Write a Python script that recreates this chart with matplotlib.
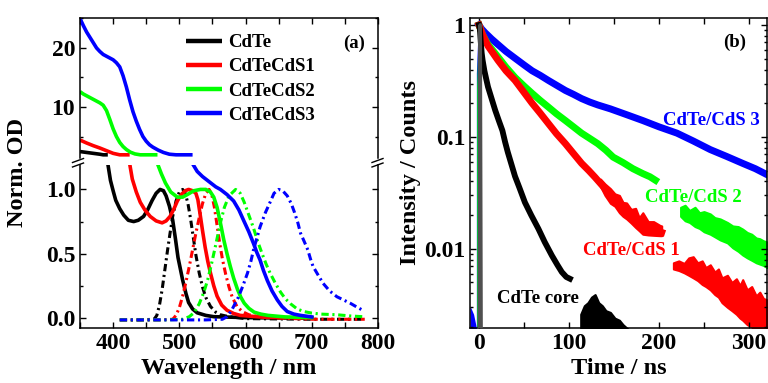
import numpy as np
import matplotlib.pyplot as plt
from matplotlib.lines import Line2D
from matplotlib.ticker import MultipleLocator, LogLocator, NullFormatter, FixedLocator, FixedFormatter

plt.rcParams['font.family'] = ['Liberation Serif', 'DejaVu Serif']
plt.rcParams['font.weight'] = 'bold'
plt.rcParams['axes.labelweight'] = 'bold'
plt.rcParams['axes.linewidth'] = 1.1

# (a) absorption spectra (solid) and PL spectra (dash-dot)
cdte_abs_wl = [350, 360, 370, 380, 385, 392, 396, 400, 404, 410, 416, 423, 431, 438, 446, 452, 459, 465, 471,
               476, 480, 485, 490, 494, 498, 502, 505, 510, 514, 520, 527, 540, 552, 600, 650, 700]
cdte_abs = [2.45, 2.3, 2.15, 2.0, 1.9, 1.2, 1.07, 0.99, 0.915, 0.85, 0.80, 0.76, 0.75, 0.76, 0.79, 0.84, 0.915, 0.97, 1.0,
            0.99, 0.95, 0.87, 0.76, 0.62, 0.47, 0.37, 0.295, 0.19, 0.12, 0.07, 0.04, 0.02, 0.01, 0.003, 0.0, 0.0]

cds1_abs_wl = [350, 360, 370, 380, 390, 400, 410, 420, 425, 429, 435, 441, 448, 456, 465, 474, 480, 486, 492, 497, 503,
               509, 514, 520, 525, 528, 531, 535, 539, 543, 547, 552, 557, 564, 572, 582, 592, 630, 700]
cds1_abs = [4.4, 3.9, 3.45, 3.05, 2.6, 2.15, 1.75, 1.35, 1.2, 1.08, 0.98, 0.9, 0.84, 0.79, 0.755, 0.74, 0.755, 0.79, 0.85,
            0.91, 0.96, 0.99, 1.0, 0.99, 0.97, 0.92, 0.82, 0.68, 0.55, 0.44, 0.35, 0.25, 0.17, 0.1, 0.06, 0.035, 0.02, 0.005, 0.0]

cds2_abs_wl = [350, 355, 360, 365, 370, 375, 380, 385, 390, 395, 400, 405, 410, 415, 420, 426, 433, 441, 455, 467, 473,
               479, 487, 497, 505, 512, 522, 532, 540, 547, 552, 557, 562, 567, 572, 577, 582, 588, 593, 598, 605, 613,
               623, 634, 660, 700]
cds2_abs = [12.6, 12.2, 11.9, 11.6, 11.3, 11.0, 10.7, 10.3, 9.4, 7.9, 6.3, 5.0, 4.0, 3.3, 2.8, 2.35, 2.05, 1.8, 1.45, 1.2, 1.12,
            1.05, 0.98, 0.94, 0.94, 0.96, 0.99, 1.0, 1.0, 0.98, 0.94, 0.86, 0.74, 0.61, 0.5, 0.4, 0.31, 0.22, 0.16, 0.115, 0.075,
            0.045, 0.03, 0.02, 0.008, 0.003]

cds3_abs_wl = [350, 355, 360, 365, 370, 375, 380, 385, 390, 395, 400, 405, 410, 415, 420, 425, 430, 435, 440, 445, 450,
               455, 460, 468, 476, 485, 495, 505, 515, 520, 527, 535, 545, 555, 562, 572, 582, 590, 597, 605, 612, 617,
               622, 627, 633, 640, 648, 655, 663, 673, 683, 700]
cds3_abs = [25.0, 23.8, 22.7, 21.8, 20.9, 20.0, 19.4, 18.9, 18.6, 18.3, 18.0, 17.5, 16.8, 15.3, 13.4, 11.2, 9.2, 7.6, 6.2,
            5.0, 4.2, 3.6, 3.2, 2.7, 2.3, 2.0, 1.7, 1.5, 1.3, 1.2, 1.14, 1.10, 1.06, 1.02, 1.0, 0.96, 0.91, 0.84, 0.76,
            0.67, 0.58, 0.51, 0.45, 0.37, 0.29, 0.21, 0.14, 0.09, 0.05, 0.03, 0.02, 0.008]

cdte_pl_wl = [410, 440, 462, 466, 470, 474, 478, 482, 486, 490, 495, 500, 505, 509, 513, 517, 521, 525, 530, 535, 540,
              547, 555, 562, 575, 600, 700, 780]
cdte_pl = [-0.015, -0.015, -0.01, 0.02, 0.1, 0.22, 0.37, 0.52, 0.66, 0.79, 0.91, 0.98, 1.0, 0.97, 0.89, 0.77, 0.63, 0.49,
           0.35, 0.24, 0.16, 0.09, 0.045, 0.025, 0.01, -0.005, -0.01, -0.01]

cds1_pl_wl = [410, 470, 490, 495, 500, 505, 510, 515, 520, 525, 530, 535, 540, 545, 549, 553, 557, 561, 565, 570, 575,
              580, 587, 595, 605, 615, 650, 700, 780]
cds1_pl = [-0.015, -0.015, -0.01, 0.02, 0.08, 0.17, 0.28, 0.40, 0.53, 0.66, 0.78, 0.89, 0.97, 1.0, 0.96, 0.86, 0.72, 0.58,
           0.46, 0.34, 0.24, 0.16, 0.09, 0.05, 0.025, 0.015, 0.0, -0.01, -0.01]

cds2_pl_wl = [410, 480, 505, 515, 522, 530, 537, 543, 549, 555, 562, 568, 575, 585, 592, 598, 605, 612, 618, 625, 631,
              637, 645, 653, 660, 668, 678, 688, 700, 714, 738, 760, 777]
cds2_pl = [-0.015, -0.015, -0.01, 0.01, 0.04, 0.11, 0.2, 0.3, 0.43, 0.57, 0.74, 0.86, 0.95, 1.0, 0.97, 0.9, 0.8, 0.7, 0.6,
           0.5, 0.42, 0.35, 0.27, 0.2, 0.15, 0.11, 0.07, 0.05, 0.038, 0.03, 0.025, 0.015, 0.01]

cds3_pl_wl = [410, 540, 565, 572, 579, 585, 589, 596, 603, 608, 612, 617, 622, 630, 637, 643, 650, 656, 663, 669, 674,
              679, 683, 689, 694, 698, 702, 710, 717, 727, 738, 748, 758, 768, 777]
cds3_pl = [-0.015, -0.015, -0.01, 0.01, 0.06, 0.12, 0.16, 0.25, 0.35, 0.44, 0.53, 0.62, 0.71, 0.82, 0.9, 0.97, 1.0, 0.99,
           0.95, 0.89, 0.82, 0.74, 0.66, 0.59, 0.53, 0.46, 0.4, 0.33, 0.27, 0.21, 0.165, 0.14, 0.115, 0.085, 0.06]

abs_labels = ['CdTe', 'CdTeCdS1', 'CdTeCdS2', 'CdTeCdS3']

# (b) PL decays
core_t = [0, 1, 2, 3, 4, 6, 8, 10, 14, 18, 22, 26, 29, 32, 36, 40, 45, 51, 58, 66, 73, 81, 87, 92, 97, 101]
core_i = [1.0, 0.92, 0.7, 0.56, 0.485, 0.39, 0.33, 0.28, 0.22, 0.173, 0.14, 0.114, 0.09, 0.073, 0.057, 0.0445, 0.035,
          0.026, 0.02, 0.0151, 0.0115, 0.0087, 0.0072, 0.0062, 0.0056, 0.0054]
core_tail_t = [113, 117, 121, 125, 129, 133, 137, 141, 146, 151, 156, 160, 166]
core_tail_lo = [0.0015] * 13
core_tail_hi = [0.0026, 0.0031, 0.0033, 0.0037, 0.0039, 0.0033, 0.0031, 0.0028, 0.0027, 0.0024, 0.0023, 0.0021, 0.0019]

s1_t = [0, 4, 10, 21, 30, 40, 50, 59, 68, 77, 86, 96, 105, 114, 122, 129, 138, 146, 155, 164, 173, 182, 192, 203]
s1_i = [1.0, 0.82, 0.65, 0.485, 0.39, 0.32, 0.25, 0.2, 0.163, 0.132, 0.107, 0.087, 0.071, 0.058, 0.05, 0.0435, 0.036,
        0.030, 0.026, 0.0228, 0.0195, 0.0165, 0.015, 0.0140]
s1_band_t = [135, 140, 146, 151, 156, 160, 164, 169, 174, 178, 182, 188, 194, 201, 203]
s1_band_lo = [0.036, 0.03, 0.0255, 0.024, 0.021, 0.0195, 0.0185, 0.017, 0.0155, 0.0145, 0.0135, 0.0133, 0.0132, 0.0131, 0.0131]
s1_band_hi = [0.042, 0.038, 0.0345, 0.031, 0.03, 0.026, 0.0257, 0.0225, 0.023, 0.019, 0.021, 0.0175, 0.0175, 0.0162, 0.016]
s1_tail_t = [216, 222, 228, 233, 238, 243, 248, 252, 257, 262, 266, 270, 276, 281, 286, 290, 293, 298, 303, 308, 312, 316, 320]
s1_tail_lo = [0.0066, 0.0064, 0.0061, 0.0058, 0.0055, 0.0052, 0.0048, 0.0046, 0.0043, 0.0039, 0.0037, 0.0033, 0.003,
              0.0028, 0.0026, 0.0024, 0.0023, 0.0021, 0.002, 0.0018, 0.0017, 0.0016, 0.0015]
s1_tail_hi = [0.0075, 0.0078, 0.0074, 0.0083, 0.0085, 0.0075, 0.0078, 0.0068, 0.0072, 0.0062, 0.0066, 0.0055, 0.0058,
              0.0050, 0.0054, 0.0047, 0.0053, 0.0043, 0.0046, 0.0038, 0.0041, 0.0036, 0.0035]

s2_t = [0, 4, 10, 21, 30, 40, 50, 59, 68, 77, 86, 96, 105, 114, 123, 132, 141, 149, 160, 171, 182, 190, 196]
s2_i = [1.0, 0.82, 0.67, 0.52, 0.42, 0.34, 0.285, 0.245, 0.212, 0.185, 0.161, 0.14, 0.123, 0.108, 0.097, 0.087, 0.076,
        0.066, 0.059, 0.052, 0.047, 0.044, 0.041]
s2_tail_t = [224, 229, 234, 240, 245, 250, 257, 262, 268, 276, 282, 288, 293, 298, 303, 308, 312, 316, 320]
s2_tail_lo = [0.0195, 0.0178, 0.0172, 0.0158, 0.0152, 0.0142, 0.0135, 0.0128, 0.012, 0.0113, 0.0102, 0.0095, 0.0088,
              0.0083, 0.0079, 0.0075, 0.0073, 0.0071, 0.0068]
s2_tail_hi = [0.0235, 0.0245, 0.022, 0.0235, 0.021, 0.0215, 0.0205, 0.019, 0.0185, 0.0172, 0.016, 0.0158, 0.015, 0.014,
              0.0135, 0.0125, 0.0123, 0.0118, 0.0115]

s3_t = [0, 3, 7, 14, 21, 30, 40, 50, 59, 68, 77, 86, 96, 105, 114, 123, 132, 146, 164, 182, 200, 220, 238, 257, 275,
        293, 307, 320]
s3_i = [1.0, 0.92, 0.85, 0.75, 0.67, 0.58, 0.505, 0.44, 0.39, 0.355, 0.32, 0.29, 0.26, 0.24, 0.22, 0.205, 0.193, 0.178,
        0.158, 0.14, 0.123, 0.108, 0.092, 0.077, 0.067, 0.058, 0.052, 0.046]
s3_pre_t = [-10, -6, -2.5]
s3_pre_hi = [0.0031, 0.0026, 0.0019]

s3_rise_t = [-1.6, -1.6, 0.5]
s3_rise_i = [0.0019, 0.37, 1.0]
s2_rise_t = [-1.2, -1.2, 0.5]
s2_rise_i = [0.0015, 0.28, 1.0]
irf_t = [0.5, 1.3, 2.3]
irf_i = [0.0015, 1.0, 0.0015]

colors = ['black', '#ff0000', '#00ff00', '#0000ff']

W, H = 768, 383
fig = plt.figure(figsize=(W / 100, H / 100), dpi=100)
ax_top = fig.add_axes([80 / W, 1 - 158 / H, 298 / W, 140 / H])
ax_bot = fig.add_axes([80 / W, 1 - 328 / H, 298 / W, 163 / H])
ax_b = fig.add_axes([470 / W, 1 - 328 / H, 297 / W, 310 / H])

TOP_FLOOR = 1.9
BREAK = 1.19
abs_sets = [(cdte_abs_wl, cdte_abs), (cds1_abs_wl, cds1_abs), (cds2_abs_wl, cds2_abs), (cds3_abs_wl, cds3_abs)]
pl_sets = [(cdte_pl_wl, cdte_pl), (cds1_pl_wl, cds1_pl), (cds2_pl_wl, cds2_pl), (cds3_pl_wl, cds3_pl)]

for (wl, od), (pwl, pl), c, lab in zip(abs_sets, pl_sets, colors, abs_labels):
    wl = np.array(wl)
    od = np.array(od)
    keep = od >= BREAK
    ax_top.plot(wl[keep], np.maximum(od[keep], TOP_FLOOR), color=c, lw=2.6, label=lab,
                solid_capstyle='butt', solid_joinstyle='round')
    ax_bot.plot(wl, od, color=c, lw=2.6, solid_joinstyle='round')
    ax_bot.plot(pwl, pl, color=c, lw=2.2, linestyle=(0, (2.4, 1.2, 0.7, 1.2)))

ax_top.set_xlim(350, 800)
ax_bot.set_xlim(350, 800)
ax_top.set_ylim(1.36, 25.08)
ax_bot.set_ylim(-0.078, 1.19)

ax_top.spines['bottom'].set_visible(False)
ax_bot.spines['top'].set_visible(False)

for ax in (ax_top, ax_bot, ax_b):
    ax.tick_params(which='both', direction='in', labelsize=17, width=1.0)
    ax.tick_params(which='major', length=4.5)
    ax.tick_params(which='minor', length=2.5)

ax_top.xaxis.set_major_locator(MultipleLocator(50))
ax_top.tick_params(axis='x', which='both', top=True, bottom=False, labelbottom=False)
ax_top.tick_params(axis='y', which='both', left=True, right=True)
ax_top.yaxis.set_major_locator(FixedLocator([10, 20]))
ax_top.yaxis.set_minor_locator(FixedLocator([5, 15, 25]))

ax_bot.xaxis.set_major_locator(MultipleLocator(100))
ax_bot.xaxis.set_minor_locator(MultipleLocator(50))
ax_bot.tick_params(axis='x', which='minor', length=4.5)
ax_bot.tick_params(axis='x', which='both', top=False, bottom=True)
ax_bot.tick_params(axis='y', which='both', left=True, right=True)
ax_bot.yaxis.set_major_locator(FixedLocator([0.0, 0.5, 1.0]))
ax_bot.yaxis.set_major_formatter(FixedFormatter(['0.0', '0.5', '1.0']))
ax_bot.yaxis.set_minor_locator(MultipleLocator(0.25))
ax_bot.set_xlabel('Wavelength / nm', fontsize=17.5, labelpad=3)
fig.text(18 / W, 1 - 173 / H, 'Norm. OD', rotation=90, ha='center', va='center', fontsize=17.5)

# axis break marks
for xc in (78, 377.5):
    for yc in (160.5, 165):
        fig.add_artist(Line2D([(xc - 5.5) / W, (xc + 5.5) / W],
                              [1 - (yc + 2) / H, 1 - (yc - 2) / H],
                              transform=fig.transFigure, color='black', lw=1.0))

leg = ax_top.legend(loc='upper left', bbox_to_anchor=(186 / W, 1 - 34 / H),
                    bbox_transform=fig.transFigure, frameon=False, fontsize=13.5,
                    handlelength=1.9, handletextpad=0.35, labelspacing=0.38, borderpad=0,
                    borderaxespad=0)
for h in leg.get_lines():
    h.set_linewidth(3.2)
ax_top.text(0.92, 0.82, '(a)', transform=ax_top.transAxes, ha='center', va='center', fontsize=13.5)

# (b) decays
dec_lw = 5
ax_b.fill_between(s3_pre_t, 0.0015, s3_pre_hi, color=colors[3], lw=0)
ax_b.plot(s3_rise_t, s3_rise_i, color=colors[3], lw=1.0)
ax_b.plot(s2_rise_t, s2_rise_i, color=colors[2], lw=1.0)
ax_b.plot(s3_t, s3_i, color=colors[3], lw=dec_lw)
ax_b.plot(s2_t, s2_i, color=colors[2], lw=dec_lw)
ax_b.fill_between(s2_tail_t, s2_tail_lo, s2_tail_hi, color=colors[2], lw=1.5, edgecolor=colors[2])
ax_b.plot(s1_t, s1_i, color=colors[1], lw=dec_lw)
ax_b.fill_between(s1_band_t, s1_band_lo, s1_band_hi, color=colors[1], lw=1.5, edgecolor=colors[1])
ax_b.fill_between(s1_tail_t, s1_tail_lo, s1_tail_hi, color=colors[1], lw=1.5, edgecolor=colors[1])
ax_b.plot(core_t, core_i, color=colors[0], lw=4.2)
ax_b.fill_between(core_tail_t, core_tail_lo, core_tail_hi, color=colors[0], lw=1.5, edgecolor=colors[0])
ax_b.plot(irf_t, irf_i, color='#505050', lw=2.6, zorder=5)

ax_b.set_yscale('log')
ax_b.set_xlim(-10, 320)
ax_b.set_ylim(0.00196, 1.155)
ax_b.xaxis.set_major_locator(MultipleLocator(100))
ax_b.xaxis.set_minor_locator(MultipleLocator(50))
ax_b.tick_params(axis='x', which='minor', length=4.5)
ax_b.tick_params(which='both', top=True, right=True)
ax_b.yaxis.set_major_locator(FixedLocator([0.01, 0.1, 1]))
ax_b.yaxis.set_major_formatter(FixedFormatter(['0.01', '0.1', '1']))
ax_b.yaxis.set_minor_locator(LogLocator(base=10, subs=np.arange(2, 10)))
ax_b.yaxis.set_minor_formatter(NullFormatter())
ax_b.set_xlabel('Time / ns', fontsize=17.5, labelpad=3)
ax_b.set_ylabel('Intensity / Counts', fontsize=17.5, labelpad=2)

ax_b.text(204, 0.14, 'CdTe/CdS 3', color=colors[3], fontsize=13.5, ha='left', va='center')
ax_b.text(184, 0.0287, 'CdTe/CdS 2', color=colors[2], fontsize=13.5, ha='left', va='center')
ax_b.text(116, 0.0096, 'CdTe/CdS 1', color=colors[1], fontsize=13.5, ha='left', va='center')
ax_b.text(20, 0.0036, 'CdTe core', color=colors[0], fontsize=13.5, ha='left', va='center')
ax_b.text(0.89, 0.92, '(b)', transform=ax_b.transAxes, ha='center', va='center', fontsize=13.5)

fig.savefig('out.png', dpi=100)
